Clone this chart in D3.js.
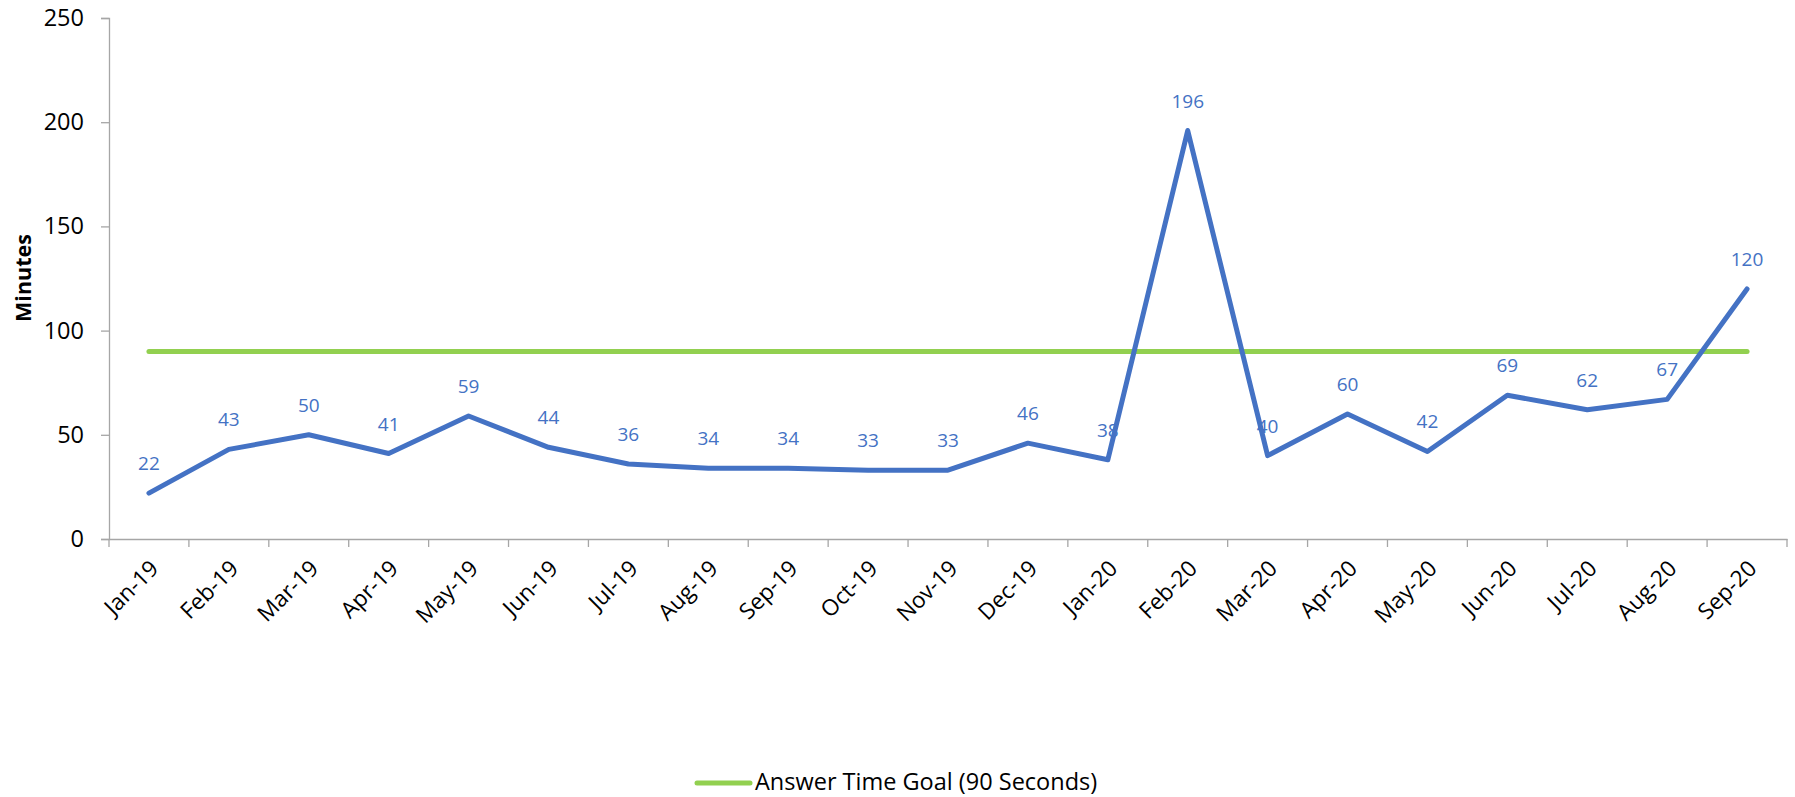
<!DOCTYPE html>
<html>
<head>
<meta charset="utf-8">
<script src="https://cdn.jsdelivr.net/npm/d3@7"></script>
<style>
  body { margin: 0; background: #fff; }
  text { font-family: "Open Sans", sans-serif; }
</style>
</head>
<body>
<svg id="chart" width="1795" height="797"></svg>
<script>
const months = ["Jan-19","Feb-19","Mar-19","Apr-19","May-19","Jun-19","Jul-19","Aug-19","Sep-19","Oct-19","Nov-19","Dec-19",
  "Jan-20","Feb-20","Mar-20","Apr-20","May-20","Jun-20","Jul-20","Aug-20","Sep-20"];
const minutes = [22,43,50,41,59,44,36,34,34,33,33,46,38,196,40,60,42,69,62,67,120];
const goal = 90;
const yTicks = [0,50,100,150,200,250];

const svg = d3.select("#chart");
const plotLeft = 109, plotRight = 1787, plotTop = 18, plotBottom = 539;

const x = d3.scaleBand().domain(months).range([plotLeft, plotRight]);
const y = d3.scaleLinear().domain([0, 250]).range([plotBottom, plotTop]);
const cx = d => x(d) + x.bandwidth() / 2;

// y axis
const yAxis = svg.append("g")
  .attr("transform", `translate(${plotLeft},0)`)
  .call(d3.axisLeft(y).tickValues(yTicks).tickSize(8).tickPadding(17));
yAxis.select(".domain").attr("stroke","#a6a6a6").attr("stroke-width",1.3);
yAxis.selectAll(".tick line").attr("stroke","#a6a6a6").attr("stroke-width",1.3);
yAxis.selectAll(".tick text").attr("font-size",23.5).attr("fill","#000")
  .attr("font-family","'Open Sans', sans-serif");

// x axis
const xAxis = svg.append("g")
  .attr("transform", `translate(0,${plotBottom})`)
  .call(d3.axisBottom(x).tickSize(0).tickSizeOuter(0));
xAxis.select(".domain").attr("stroke","#a6a6a6").attr("stroke-width",1.3);
xAxis.selectAll(".tick text").remove();
xAxis.selectAll(".tick line").remove();

svg.append("g").selectAll("line")
  .data(d3.range(months.length + 1))
  .enter().append("line")
  .attr("x1", i => plotLeft + i * x.step())
  .attr("x2", i => plotLeft + i * x.step())
  .attr("y1", plotBottom).attr("y2", plotBottom + 8)
  .attr("stroke","#a6a6a6").attr("stroke-width",1.3);

svg.append("g").selectAll("text")
  .data(months)
  .enter().append("text")
  .attr("text-anchor","end")
  .attr("font-size",22.5)
  .attr("transform", d => `translate(${cx(d) + 11},${plotBottom + 31}) rotate(-45)`)
  .text(d => d);

// axis title
svg.append("text")
  .attr("transform", `translate(31,278) rotate(-90)`)
  .attr("text-anchor","middle")
  .attr("font-size",21.5)
  .attr("font-weight","bold")
  .text("Minutes");

// goal line
svg.append("line")
  .attr("x1", cx(months[0])).attr("x2", cx(months[months.length - 1]))
  .attr("y1", y(goal)).attr("y2", y(goal))
  .attr("stroke","#92d050").attr("stroke-width",5).attr("stroke-linecap","round");

// series line
const line = d3.line().x((d,i) => cx(months[i])).y(d => y(d));
svg.append("path")
  .datum(minutes)
  .attr("d", line)
  .attr("fill","none")
  .attr("stroke","#4472c4")
  .attr("stroke-width",5)
  .attr("stroke-linejoin","round")
  .attr("stroke-linecap","round");

// data labels
svg.append("g").selectAll("text")
  .data(minutes)
  .enter().append("text")
  .attr("x", (d,i) => cx(months[i]))
  .attr("y", d => y(d) - 23)
  .attr("text-anchor","middle")
  .attr("font-size",19)
  .attr("fill","#4472c4")
  .text(d => d);

// legend
svg.append("line")
  .attr("x1",697).attr("x2",750).attr("y1",783).attr("y2",783)
  .attr("stroke","#92d050").attr("stroke-width",5).attr("stroke-linecap","round");
svg.append("text")
  .attr("x",755).attr("y",790)
  .attr("font-size",23.5)
  .text("Answer Time Goal (90 Seconds)");
</script>
</body>
</html>
